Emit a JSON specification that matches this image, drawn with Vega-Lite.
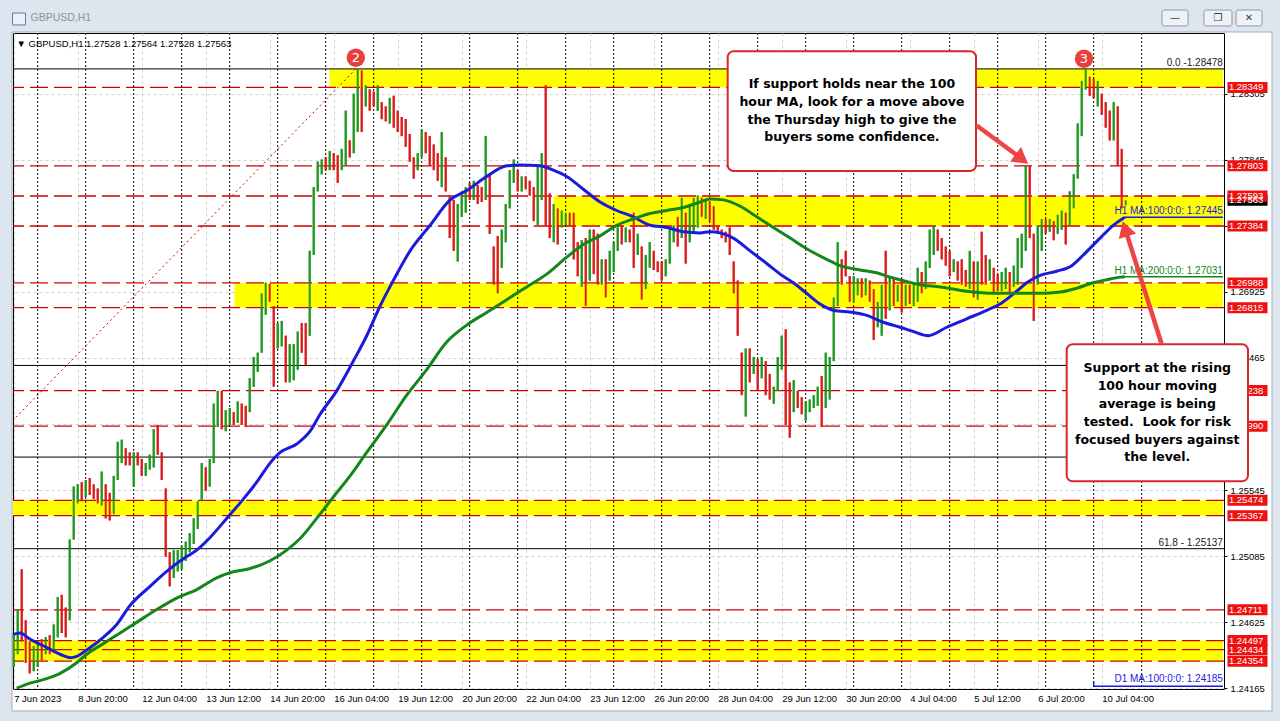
{
"$schema":"https://vega.github.io/schema/vega-lite/v6.json",
"autosize":{"type":"none"},
"padding":{"left":13,"top":33,"right":56,"bottom":32},
"width":1211,"height":656,
"config":{"background":"#ffffff","view":{"stroke":"#000000","strokeWidth":1},
"axis":{"labelFont":"Liberation Sans","labelFontSize":9.5,"labelColor":"#000000","domain":false,"gridColor":"#d2d2d2","gridDash":[3,3],"gridWidth":1},
"text":{"font":"Liberation Sans"}},
"datasets":{
"frame":[{"x1":-10,"x2":650,"p1":1.28735,"p2":1.2900},{"x1":-10,"x2":11.15,"p1":1.2390,"p2":1.2900},{"x1":641.15,"x2":650,"p1":1.2390,"p2":1.2900},{"x1":-10,"x2":650,"p1":1.2390,"p2":1.24007}],
"zones":[{"x1":169.9,"x2":616.6,"p1":1.28478,"p2":1.28349},{"x1":281.9,"x2":616.6,"p1":1.27593,"p2":1.27384},{"x1":122.4,"x2":616.6,"p1":1.26988,"p2":1.26815},{"x1":11.65,"x2":616.6,"p1":1.25474,"p2":1.25367},{"x1":11.65,"x2":616.6,"p1":1.24497,"p2":1.24354}],
"fib":[{"p":1.28478},{"p":1.26413},{"p":1.25775},{"p":1.25137}],
"levels":[{"p":1.28349},{"p":1.27803},{"p":1.27593},{"p":1.27384},{"p":1.26988},{"p":1.26815},{"p":1.26238},{"p":1.2599},{"p":1.25474},{"p":1.25367},{"p":1.24711},{"p":1.24497},{"p":1.24434},{"p":1.24354}],
"days":[{"i":24},{"i":48},{"i":72},{"i":96},{"i":120},{"i":144},{"i":168},{"i":192},{"i":216},{"i":240},{"i":264},{"i":288},{"i":312},{"i":336},{"i":360},{"i":384},{"i":408},{"i":432},{"i":456},{"i":480},{"i":504},{"i":528},{"i":552},{"i":576}],
"bars":[
{"i":12,"h":1.2455,"l":1.24314,"s":"u"},{"i":14,"h":1.24713,"l":1.24402,"s":"u"},{"i":16,"h":1.24994,"l":1.24491,"s":"d"},{"i":18,"h":1.24638,"l":1.24343,"s":"d"},{"i":20,"h":1.24491,"l":1.24269,"s":"d"},{"i":22,"h":1.24461,"l":1.24284,"s":"u"},{"i":24,"h":1.24491,"l":1.24314,"s":"u"},{"i":26,"h":1.24506,"l":1.24358,"s":"d"},{"i":28,"h":1.2452,"l":1.24402,"s":"u"},{"i":30,"h":1.24535,"l":1.24402,"s":"d"},
{"i":32,"h":1.24609,"l":1.24432,"s":"u"},{"i":34,"h":1.24801,"l":1.2452,"s":"u"},{"i":36,"h":1.24816,"l":1.2455,"s":"d"},{"i":38,"h":1.24727,"l":1.2452,"s":"d"},{"i":40,"h":1.25201,"l":1.24638,"s":"u"},{"i":42,"h":1.2557,"l":1.25201,"s":"u"},{"i":44,"h":1.25585,"l":1.25452,"s":"u"},{"i":46,"h":1.256,"l":1.25467,"s":"d"},{"i":48,"h":1.25615,"l":1.25497,"s":"u"},{"i":50,"h":1.25629,"l":1.25511,"s":"d"},
{"i":52,"h":1.25585,"l":1.25482,"s":"d"},{"i":54,"h":1.25556,"l":1.25452,"s":"d"},{"i":56,"h":1.25674,"l":1.25437,"s":"u"},{"i":58,"h":1.25585,"l":1.25348,"s":"d"},{"i":60,"h":1.25526,"l":1.25334,"s":"d"},{"i":62,"h":1.25644,"l":1.25378,"s":"u"},{"i":64,"h":1.25881,"l":1.25615,"s":"u"},{"i":66,"h":1.25896,"l":1.25733,"s":"u"},{"i":68,"h":1.25836,"l":1.25718,"s":"d"},{"i":70,"h":1.25807,"l":1.25718,"s":"d"},
{"i":72,"h":1.25807,"l":1.2557,"s":"u"},{"i":74,"h":1.25807,"l":1.25718,"s":"d"},{"i":76,"h":1.25762,"l":1.25644,"s":"d"},{"i":78,"h":1.25733,"l":1.25644,"s":"u"},{"i":80,"h":1.25792,"l":1.25688,"s":"u"},{"i":82,"h":1.25969,"l":1.25703,"s":"u"},{"i":84,"h":1.25999,"l":1.25792,"s":"d"},{"i":86,"h":1.25807,"l":1.25615,"s":"d"},{"i":88,"h":1.25556,"l":1.25082,"s":"d"},{"i":90,"h":1.25112,"l":1.24875,"s":"d"},
{"i":92,"h":1.25127,"l":1.24934,"s":"u"},{"i":94,"h":1.25127,"l":1.24979,"s":"u"},{"i":96,"h":1.25156,"l":1.24994,"s":"u"},{"i":98,"h":1.25186,"l":1.25053,"s":"u"},{"i":100,"h":1.25245,"l":1.25112,"s":"u"},{"i":102,"h":1.25348,"l":1.25171,"s":"u"},{"i":104,"h":1.25467,"l":1.25274,"s":"u"},{"i":106,"h":1.25733,"l":1.25467,"s":"u"},{"i":108,"h":1.25703,"l":1.25541,"s":"d"},{"i":110,"h":1.25762,"l":1.2557,"s":"u"},
{"i":112,"h":1.26147,"l":1.25733,"s":"u"},{"i":114,"h":1.26236,"l":1.25984,"s":"u"},{"i":116,"h":1.26236,"l":1.25969,"s":"d"},{"i":118,"h":1.26102,"l":1.25955,"s":"u"},{"i":120,"h":1.26117,"l":1.25999,"s":"u"},{"i":122,"h":1.26088,"l":1.25999,"s":"d"},{"i":124,"h":1.26162,"l":1.26014,"s":"u"},{"i":126,"h":1.26147,"l":1.25999,"s":"d"},{"i":128,"h":1.26132,"l":1.25984,"s":"d"},{"i":130,"h":1.26324,"l":1.26088,"s":"u"},
{"i":132,"h":1.26472,"l":1.26265,"s":"u"},{"i":134,"h":1.26502,"l":1.26369,"s":"u"},{"i":136,"h":1.26915,"l":1.26502,"s":"u"},{"i":138,"h":1.26989,"l":1.26767,"s":"u"},{"i":140,"h":1.26981,"l":1.26856,"s":"d"},{"i":142,"h":1.26827,"l":1.26265,"s":"d"},{"i":144,"h":1.26708,"l":1.26531,"s":"u"},{"i":146,"h":1.26723,"l":1.26546,"s":"u"},{"i":148,"h":1.2662,"l":1.26295,"s":"d"},{"i":150,"h":1.26561,"l":1.26295,"s":"u"},
{"i":152,"h":1.26561,"l":1.2631,"s":"u"},{"i":154,"h":1.26649,"l":1.26384,"s":"u"},{"i":156,"h":1.26708,"l":1.26502,"s":"d"},{"i":158,"h":1.26708,"l":1.26413,"s":"d"},{"i":160,"h":1.27211,"l":1.2662,"s":"u"},{"i":162,"h":1.27655,"l":1.27182,"s":"u"},{"i":164,"h":1.27832,"l":1.27625,"s":"u"},{"i":166,"h":1.27847,"l":1.27744,"s":"u"},{"i":168,"h":1.27862,"l":1.27773,"s":"d"},{"i":170,"h":1.27906,"l":1.27773,"s":"u"},
{"i":172,"h":1.27891,"l":1.27773,"s":"d"},{"i":174,"h":1.27877,"l":1.27684,"s":"d"},{"i":176,"h":1.27921,"l":1.27773,"s":"u"},{"i":178,"h":1.28187,"l":1.27803,"s":"u"},{"i":180,"h":1.2798,"l":1.27862,"s":"d"},{"i":182,"h":1.28305,"l":1.27891,"s":"u"},{"i":184,"h":1.28477,"l":1.28039,"s":"u"},{"i":186,"h":1.28468,"l":1.28039,"s":"d"},{"i":188,"h":1.28365,"l":1.28217,"s":"u"},{"i":190,"h":1.28335,"l":1.28187,"s":"d"},
{"i":192,"h":1.2832,"l":1.28217,"s":"d"},{"i":194,"h":1.28365,"l":1.28187,"s":"u"},{"i":196,"h":1.28246,"l":1.28128,"s":"d"},{"i":198,"h":1.28217,"l":1.28113,"s":"d"},{"i":200,"h":1.28276,"l":1.28098,"s":"u"},{"i":202,"h":1.28291,"l":1.28069,"s":"d"},{"i":204,"h":1.28187,"l":1.28039,"s":"d"},{"i":206,"h":1.28143,"l":1.2801,"s":"d"},{"i":208,"h":1.28128,"l":1.27936,"s":"d"},{"i":210,"h":1.28025,"l":1.27832,"s":"d"},
{"i":212,"h":1.27862,"l":1.27714,"s":"d"},{"i":214,"h":1.27891,"l":1.27773,"s":"u"},{"i":216,"h":1.28054,"l":1.27862,"s":"u"},{"i":218,"h":1.28039,"l":1.27891,"s":"d"},{"i":220,"h":1.2801,"l":1.27803,"s":"d"},{"i":222,"h":1.27951,"l":1.27773,"s":"d"},{"i":224,"h":1.27891,"l":1.27699,"s":"d"},{"i":226,"h":1.28039,"l":1.27655,"s":"u"},{"i":228,"h":1.27862,"l":1.27625,"s":"d"},{"i":230,"h":1.27596,"l":1.273,"s":"d"},
{"i":232,"h":1.27566,"l":1.27211,"s":"d"},{"i":234,"h":1.27537,"l":1.27137,"s":"u"},{"i":236,"h":1.27625,"l":1.27448,"s":"u"},{"i":238,"h":1.27655,"l":1.27477,"s":"u"},{"i":240,"h":1.27684,"l":1.27566,"s":"d"},{"i":242,"h":1.27699,"l":1.27566,"s":"u"},{"i":244,"h":1.2767,"l":1.27537,"s":"d"},{"i":246,"h":1.27655,"l":1.27551,"s":"d"},{"i":248,"h":1.2801,"l":1.27566,"s":"u"},{"i":250,"h":1.27744,"l":1.2733,"s":"d"},
{"i":252,"h":1.27241,"l":1.26975,"s":"d"},{"i":254,"h":1.27315,"l":1.26915,"s":"d"},{"i":256,"h":1.27359,"l":1.27093,"s":"u"},{"i":258,"h":1.27537,"l":1.27271,"s":"u"},{"i":260,"h":1.27773,"l":1.27507,"s":"u"},{"i":262,"h":1.27847,"l":1.27684,"s":"u"},{"i":264,"h":1.27773,"l":1.27625,"s":"d"},{"i":266,"h":1.27729,"l":1.27625,"s":"u"},{"i":268,"h":1.27729,"l":1.2764,"s":"d"},{"i":270,"h":1.27699,"l":1.27596,"s":"d"},
{"i":272,"h":1.27655,"l":1.27418,"s":"d"},{"i":274,"h":1.27803,"l":1.27389,"s":"u"},{"i":276,"h":1.27891,"l":1.27566,"s":"u"},{"i":278,"h":1.28365,"l":1.27389,"s":"d"},{"i":280,"h":1.27611,"l":1.273,"s":"d"},{"i":282,"h":1.27537,"l":1.27271,"s":"u"},{"i":284,"h":1.27507,"l":1.27256,"s":"d"},{"i":286,"h":1.27492,"l":1.27374,"s":"u"},{"i":288,"h":1.27477,"l":1.27389,"s":"u"},{"i":290,"h":1.27477,"l":1.27389,"s":"d"},
{"i":292,"h":1.27477,"l":1.27152,"s":"d"},{"i":294,"h":1.27271,"l":1.27034,"s":"d"},{"i":296,"h":1.27285,"l":1.2696,"s":"u"},{"i":298,"h":1.273,"l":1.26827,"s":"d"},{"i":300,"h":1.27359,"l":1.27004,"s":"u"},{"i":302,"h":1.27359,"l":1.27049,"s":"d"},{"i":304,"h":1.2733,"l":1.26975,"s":"d"},{"i":306,"h":1.27152,"l":1.26975,"s":"u"},{"i":308,"h":1.27152,"l":1.26886,"s":"d"},{"i":310,"h":1.27211,"l":1.27004,"s":"u"},
{"i":312,"h":1.27271,"l":1.27063,"s":"u"},{"i":314,"h":1.27374,"l":1.27211,"s":"u"},{"i":316,"h":1.27389,"l":1.27256,"s":"d"},{"i":318,"h":1.27374,"l":1.27271,"s":"u"},{"i":320,"h":1.27359,"l":1.27271,"s":"d"},{"i":322,"h":1.27477,"l":1.27093,"s":"d"},{"i":324,"h":1.2733,"l":1.27182,"s":"u"},{"i":326,"h":1.27241,"l":1.26871,"s":"d"},{"i":328,"h":1.27182,"l":1.26945,"s":"u"},{"i":330,"h":1.27271,"l":1.27093,"s":"u"},
{"i":332,"h":1.27211,"l":1.27078,"s":"d"},{"i":334,"h":1.27137,"l":1.27063,"s":"d"},{"i":336,"h":1.27137,"l":1.27004,"s":"d"},{"i":338,"h":1.27152,"l":1.27034,"s":"u"},{"i":340,"h":1.27359,"l":1.27123,"s":"u"},{"i":342,"h":1.27389,"l":1.27271,"s":"u"},{"i":344,"h":1.27448,"l":1.27241,"s":"d"},{"i":346,"h":1.27581,"l":1.273,"s":"u"},{"i":348,"h":1.27477,"l":1.27123,"s":"d"},{"i":350,"h":1.27537,"l":1.27271,"s":"u"},
{"i":352,"h":1.27581,"l":1.27344,"s":"u"},{"i":354,"h":1.27596,"l":1.27374,"s":"u"},{"i":356,"h":1.27581,"l":1.27448,"s":"d"},{"i":358,"h":1.27566,"l":1.27433,"s":"u"},{"i":360,"h":1.27551,"l":1.27418,"s":"d"},{"i":362,"h":1.27522,"l":1.27359,"s":"d"},{"i":364,"h":1.27389,"l":1.2733,"s":"d"},{"i":366,"h":1.27359,"l":1.273,"s":"d"},{"i":368,"h":1.27344,"l":1.27271,"s":"d"},{"i":370,"h":1.27374,"l":1.27182,"s":"d"},
{"i":372,"h":1.27137,"l":1.26915,"s":"d"},{"i":374,"h":1.27004,"l":1.2662,"s":"d"},{"i":376,"h":1.26502,"l":1.26206,"s":"d"},{"i":378,"h":1.26531,"l":1.26058,"s":"u"},{"i":380,"h":1.26531,"l":1.26295,"s":"d"},{"i":382,"h":1.26472,"l":1.26354,"s":"u"},{"i":384,"h":1.26457,"l":1.26236,"s":"d"},{"i":386,"h":1.26472,"l":1.26324,"s":"u"},{"i":388,"h":1.26443,"l":1.26206,"s":"d"},{"i":390,"h":1.26354,"l":1.26176,"s":"d"},
{"i":392,"h":1.26265,"l":1.26147,"s":"u"},{"i":394,"h":1.26472,"l":1.26236,"s":"u"},{"i":396,"h":1.2662,"l":1.26384,"s":"u"},{"i":398,"h":1.26664,"l":1.25999,"s":"d"},{"i":400,"h":1.26295,"l":1.2591,"s":"d"},{"i":402,"h":1.2631,"l":1.26088,"s":"u"},{"i":404,"h":1.26236,"l":1.26117,"s":"d"},{"i":406,"h":1.26191,"l":1.26073,"s":"d"},{"i":408,"h":1.26162,"l":1.26029,"s":"u"},{"i":410,"h":1.26176,"l":1.26088,"s":"u"},
{"i":412,"h":1.26206,"l":1.26117,"s":"u"},{"i":414,"h":1.26265,"l":1.26132,"s":"u"},{"i":416,"h":1.26339,"l":1.25984,"s":"d"},{"i":418,"h":1.26502,"l":1.26117,"s":"u"},{"i":420,"h":1.26472,"l":1.26176,"s":"u"},{"i":422,"h":1.26886,"l":1.26443,"s":"u"},{"i":424,"h":1.27271,"l":1.26827,"s":"u"},{"i":426,"h":1.27152,"l":1.26975,"s":"d"},{"i":428,"h":1.27211,"l":1.27034,"s":"d"},{"i":430,"h":1.27034,"l":1.26856,"s":"d"},
{"i":432,"h":1.27034,"l":1.26856,"s":"u"},{"i":434,"h":1.27019,"l":1.26901,"s":"u"},{"i":436,"h":1.27019,"l":1.26886,"s":"d"},{"i":438,"h":1.27019,"l":1.26901,"s":"u"},{"i":440,"h":1.27004,"l":1.26856,"s":"d"},{"i":442,"h":1.26945,"l":1.2659,"s":"d"},{"i":444,"h":1.26856,"l":1.26679,"s":"u"},{"i":446,"h":1.26975,"l":1.2662,"s":"u"},{"i":448,"h":1.27211,"l":1.26738,"s":"d"},{"i":450,"h":1.27034,"l":1.26797,"s":"u"},
{"i":452,"h":1.27019,"l":1.26827,"s":"d"},{"i":454,"h":1.26975,"l":1.26856,"s":"u"},{"i":456,"h":1.27004,"l":1.26782,"s":"d"},{"i":458,"h":1.26975,"l":1.26827,"s":"u"},{"i":460,"h":1.26975,"l":1.26841,"s":"d"},{"i":462,"h":1.26989,"l":1.26827,"s":"u"},{"i":464,"h":1.27093,"l":1.26856,"s":"u"},{"i":466,"h":1.27063,"l":1.26915,"s":"d"},{"i":468,"h":1.27137,"l":1.26945,"s":"u"},{"i":470,"h":1.27359,"l":1.27093,"s":"u"},
{"i":472,"h":1.27389,"l":1.27182,"s":"u"},{"i":474,"h":1.27359,"l":1.27211,"s":"d"},{"i":476,"h":1.273,"l":1.27152,"s":"d"},{"i":478,"h":1.27241,"l":1.27108,"s":"d"},{"i":480,"h":1.27211,"l":1.27034,"s":"d"},{"i":482,"h":1.27152,"l":1.27063,"s":"u"},{"i":484,"h":1.27137,"l":1.27004,"s":"d"},{"i":486,"h":1.27152,"l":1.26975,"s":"d"},{"i":488,"h":1.27078,"l":1.2696,"s":"d"},{"i":490,"h":1.27211,"l":1.26945,"s":"u"},
{"i":492,"h":1.27137,"l":1.26886,"s":"d"},{"i":494,"h":1.27137,"l":1.26871,"s":"u"},{"i":496,"h":1.27344,"l":1.26975,"s":"d"},{"i":498,"h":1.27182,"l":1.26975,"s":"d"},{"i":500,"h":1.27152,"l":1.27004,"s":"u"},{"i":502,"h":1.27093,"l":1.26915,"s":"d"},{"i":504,"h":1.27049,"l":1.2693,"s":"d"},{"i":506,"h":1.27063,"l":1.2693,"s":"u"},{"i":508,"h":1.27093,"l":1.26945,"s":"u"},{"i":510,"h":1.27063,"l":1.26915,"s":"d"},
{"i":512,"h":1.27108,"l":1.2696,"s":"u"},{"i":514,"h":1.273,"l":1.26975,"s":"u"},{"i":516,"h":1.2733,"l":1.27093,"s":"u"},{"i":518,"h":1.27803,"l":1.27211,"s":"u"},{"i":520,"h":1.27803,"l":1.273,"s":"d"},{"i":522,"h":1.2733,"l":1.26723,"s":"d"},{"i":524,"h":1.27389,"l":1.26975,"s":"u"},{"i":526,"h":1.27433,"l":1.27211,"s":"u"},{"i":528,"h":1.27433,"l":1.2733,"s":"d"},{"i":530,"h":1.27433,"l":1.27344,"s":"u"},
{"i":532,"h":1.27418,"l":1.27285,"s":"d"},{"i":534,"h":1.27463,"l":1.2733,"s":"u"},{"i":536,"h":1.27492,"l":1.27359,"s":"u"},{"i":538,"h":1.27477,"l":1.27256,"s":"d"},{"i":540,"h":1.27625,"l":1.27389,"s":"u"},{"i":542,"h":1.27744,"l":1.27507,"s":"u"},{"i":544,"h":1.28098,"l":1.27714,"s":"u"},{"i":546,"h":1.28394,"l":1.2801,"s":"u"},{"i":548,"h":1.28478,"l":1.28335,"s":"u"},{"i":550,"h":1.28424,"l":1.28291,"s":"d"},
{"i":552,"h":1.28409,"l":1.28276,"s":"d"},{"i":554,"h":1.28394,"l":1.28217,"s":"u"},{"i":556,"h":1.28305,"l":1.28158,"s":"d"},{"i":558,"h":1.28246,"l":1.28069,"s":"d"},{"i":560,"h":1.28187,"l":1.2798,"s":"d"},{"i":562,"h":1.28246,"l":1.2798,"s":"u"},{"i":564,"h":1.28217,"l":1.27803,"s":"d"},{"i":566,"h":1.27921,"l":1.27507,"s":"d"},{"i":568,"h":1.27564,"l":1.27528,"s":"u"}],
"ma":[
{"i":11.7,"p":1.2454,"k":"100"},{"i":15.2,"p":1.2455,"k":"100"},{"i":20.2,"p":1.24506,"k":"100"},{"i":26.8,"p":1.24461,"k":"100"},{"i":35.2,"p":1.24402,"k":"100"},{"i":40.2,"p":1.24378,"k":"100"},{"i":43.5,"p":1.24387,"k":"100"},{"i":48.5,"p":1.24432,"k":"100"},{"i":56.8,"p":1.2452,"k":"100"},{"i":63.5,"p":1.24609,"k":"100"},{"i":70.2,"p":1.24742,"k":"100"},{"i":80.2,"p":1.24875,"k":"100"},{"i":88.5,"p":1.24979,"k":"100"},{"i":96.8,"p":1.25067,"k":"100"},{"i":103.5,"p":1.25127,"k":"100"},{"i":110.2,"p":1.25215,"k":"100"},{"i":118.5,"p":1.25348,"k":"100"},{"i":126.8,"p":1.25482,"k":"100"},{"i":133.5,"p":1.256,"k":"100"},{"i":140.2,"p":1.25733,"k":"100"},{"i":145.2,"p":1.25807,"k":"100"},{"i":153.5,"p":1.25866,"k":"100"},{"i":160.2,"p":1.25955,"k":"100"},{"i":165.2,"p":1.26073,"k":"100"},{"i":173.5,"p":1.26236,"k":"100"},{"i":181.8,"p":1.26443,"k":"100"},{"i":188.5,"p":1.2662,"k":"100"},{"i":195.2,"p":1.26827,"k":"100"},{"i":201.8,"p":1.27004,"k":"100"},{"i":210.2,"p":1.27211,"k":"100"},{"i":220.2,"p":1.27389,"k":"100"},{"i":230.2,"p":1.27566,"k":"100"},{"i":238.5,"p":1.27631,"k":"100"},{"i":248.5,"p":1.27729,"k":"100"},{"i":258.5,"p":1.27803,"k":"100"},{"i":265.2,"p":1.27809,"k":"100"},{"i":275.2,"p":1.27803,"k":"100"},{"i":281.8,"p":1.27773,"k":"100"},{"i":288.5,"p":1.27729,"k":"100"},{"i":296.8,"p":1.2764,"k":"100"},{"i":305.2,"p":1.27551,"k":"100"},{"i":313.5,"p":1.27492,"k":"100"},{"i":321.8,"p":1.27448,"k":"100"},{"i":330.2,"p":1.27389,"k":"100"},{"i":338.5,"p":1.27374,"k":"100"},{"i":346.8,"p":1.27344,"k":"100"},{"i":355.2,"p":1.27336,"k":"100"},{"i":360.2,"p":1.27344,"k":"100"},{"i":365.2,"p":1.27336,"k":"100"},{"i":371.8,"p":1.273,"k":"100"},{"i":380.2,"p":1.27211,"k":"100"},{"i":388.5,"p":1.27123,"k":"100"},{"i":395.2,"p":1.27049,"k":"100"},{"i":401.8,"p":1.26989,"k":"100"},{"i":408.5,"p":1.26915,"k":"100"},{"i":415.2,"p":1.26841,"k":"100"},{"i":421.8,"p":1.26797,"k":"100"},{"i":431.8,"p":1.26782,"k":"100"},{"i":438.5,"p":1.26762,"k":"100"},{"i":446.8,"p":1.26714,"k":"100"},{"i":455.2,"p":1.26679,"k":"100"},{"i":461.8,"p":1.26649,"k":"100"},{"i":469.3,"p":1.2662,"k":"100"},{"i":478.5,"p":1.26679,"k":"100"},{"i":488.5,"p":1.26738,"k":"100"},{"i":498.5,"p":1.26797,"k":"100"},{"i":505.2,"p":1.26841,"k":"100"},{"i":513.5,"p":1.2693,"k":"100"},{"i":518.5,"p":1.26989,"k":"100"},{"i":525.2,"p":1.2704,"k":"100"},{"i":533.5,"p":1.27069,"k":"100"},{"i":541,"p":1.27108,"k":"100"},{"i":546.8,"p":1.27182,"k":"100"},{"i":555.2,"p":1.273,"k":"100"},{"i":561.8,"p":1.27389,"k":"100"},{"i":567.6,"p":1.27445,"k":"100"},
{"i":13.5,"p":1.24166,"k":"200"},{"i":20.2,"p":1.24201,"k":"200"},{"i":26.8,"p":1.24225,"k":"200"},{"i":35.2,"p":1.24269,"k":"200"},{"i":43.5,"p":1.24343,"k":"200"},{"i":48.5,"p":1.24402,"k":"200"},{"i":56.8,"p":1.24476,"k":"200"},{"i":65.2,"p":1.2455,"k":"200"},{"i":73.5,"p":1.24624,"k":"200"},{"i":83.5,"p":1.24713,"k":"200"},{"i":93.5,"p":1.24793,"k":"200"},{"i":103.5,"p":1.24852,"k":"200"},{"i":113.5,"p":1.24934,"k":"200"},{"i":120.2,"p":1.2497,"k":"200"},{"i":130.2,"p":1.24999,"k":"200"},{"i":140.2,"p":1.25053,"k":"200"},{"i":148.5,"p":1.25127,"k":"200"},{"i":155.2,"p":1.25208,"k":"200"},{"i":163.5,"p":1.25348,"k":"200"},{"i":171.8,"p":1.25497,"k":"200"},{"i":180.2,"p":1.25644,"k":"200"},{"i":188.5,"p":1.25807,"k":"200"},{"i":198.5,"p":1.25999,"k":"200"},{"i":208.5,"p":1.26206,"k":"200"},{"i":218.5,"p":1.26384,"k":"200"},{"i":228.5,"p":1.26576,"k":"200"},{"i":238.5,"p":1.26694,"k":"200"},{"i":248.5,"p":1.26782,"k":"200"},{"i":258.5,"p":1.26871,"k":"200"},{"i":268.5,"p":1.2696,"k":"200"},{"i":278.5,"p":1.27049,"k":"200"},{"i":288.5,"p":1.27167,"k":"200"},{"i":296.8,"p":1.27256,"k":"200"},{"i":305.2,"p":1.27315,"k":"200"},{"i":313.5,"p":1.27389,"k":"200"},{"i":321.8,"p":1.27433,"k":"200"},{"i":330.2,"p":1.27471,"k":"200"},{"i":338.5,"p":1.27492,"k":"200"},{"i":346.8,"p":1.27513,"k":"200"},{"i":355.2,"p":1.27551,"k":"200"},{"i":360.2,"p":1.27572,"k":"200"},{"i":366.8,"p":1.27566,"k":"200"},{"i":375.2,"p":1.27522,"k":"200"},{"i":383.5,"p":1.27448,"k":"200"},{"i":391.8,"p":1.27374,"k":"200"},{"i":400.2,"p":1.273,"k":"200"},{"i":408.5,"p":1.27226,"k":"200"},{"i":418.5,"p":1.27152,"k":"200"},{"i":425.2,"p":1.27108,"k":"200"},{"i":435.2,"p":1.27078,"k":"200"},{"i":443.5,"p":1.27058,"k":"200"},{"i":450.2,"p":1.27028,"k":"200"},{"i":455.2,"p":1.2701,"k":"200"},{"i":465.2,"p":1.26975,"k":"200"},{"i":475.2,"p":1.2696,"k":"200"},{"i":488.5,"p":1.2693,"k":"200"},{"i":501.8,"p":1.26915,"k":"200"},{"i":513.5,"p":1.26915,"k":"200"},{"i":525.2,"p":1.26915,"k":"200"},{"i":535.2,"p":1.26924,"k":"200"},{"i":543.5,"p":1.26951,"k":"200"},{"i":551.8,"p":1.26989,"k":"200"},{"i":558.5,"p":1.2701,"k":"200"},{"i":565.2,"p":1.27028,"k":"200"},{"i":567.6,"p":1.27031,"k":"200"}],
"malines":[{"x1":567.6,"x2":616.6,"p1":1.27445,"p2":1.27445,"k":"100"},{"x1":567.6,"x2":616.6,"p1":1.27031,"p2":1.27031,"k":"200"},{"x1":552,"x2":616.6,"p1":1.2418,"p2":1.2418,"k":"D1"},{"x1":552,"x2":552,"p1":1.2418,"p2":1.2421,"k":"D1"}],
"rtexts":[{"p":1.27445,"t":"H1 MA:100:0:0: 1.27445","k":"100"},{"p":1.27031,"t":"H1 MA:200:0:0: 1.27031","k":"200"},{"p":1.24185,"t":"D1 MA:100:0:0: 1.24185","k":"D1"},{"p":1.28478,"t":"0.0 -1.28478","k":"fib"},{"p":1.26413,"t":"38.2 - 1.26413","k":"fib"},{"p":1.25775,"t":"50.0 - 1.25775","k":"fib"},{"p":1.25137,"t":"61.8 - 1.25137","k":"fib"}],
"plabels":[{"p":1.27563,"t":"1.27563","c":"k"},{"p":1.24434,"t":"1.24434","c":"r"},{"p":1.28349,"t":"1.28349","c":"r"},{"p":1.27803,"t":"1.27803","c":"r"},{"p":1.27593,"t":"1.27593","c":"r"},{"p":1.27384,"t":"1.27384","c":"r"},{"p":1.26988,"t":"1.26988","c":"r"},{"p":1.26815,"t":"1.26815","c":"r"},{"p":1.26238,"t":"1.26238","c":"r"},{"p":1.2599,"t":"1.25990","c":"r"},{"p":1.25474,"t":"1.25474","c":"r"},{"p":1.25367,"t":"1.25367","c":"r"},{"p":1.24711,"t":"1.24711","c":"r"},{"p":1.24497,"t":"1.24497","c":"r"},{"p":1.24354,"t":"1.24354","c":"r"}],
"boxes":[{"x1":369.0,"x2":493.15,"p1":1.28601,"p2":1.27767},{"x1":538.5,"x2":629.15,"p1":1.26561,"p2":1.25606}],
"notes":[{"i":431.1,"p":1.28373,"t":"If support holds near the 100\nhour MA, look for a move above\nthe Thursday high to give the\nbuyers some confidence."},{"i":583.8,"p":1.26392,"t":"Support at the rising\n100 hour moving\naverage is being\ntested.\u00a0 Look for risk\nfocused buyers against\nthe level."}],
"arrows":[{"x1":493.5,"p1":1.28084,"x2":516.1,"p2":1.27851},{"x1":586.0,"p1":1.26561,"x2":567.7,"p2":1.27365}],
"marks":[{"i":183.05,"p":1.28556,"t":"2"},{"i":547.15,"p":1.28549,"t":"3"}],
"buttons":[{"x1":586.15,"x2":599.15,"xc":592.65,"p1":1.28888,"p2":1.28777,"pc":1.28832,"t":"—"},{"x1":607.15,"x2":621.15,"xc":614.15,"p1":1.28888,"p2":1.28777,"pc":1.28832,"t":"❐"},{"x1":623.15,"x2":636.15,"xc":629.65,"p1":1.28888,"p2":1.28777,"pc":1.28832,"t":"✕"}]
},
"layer":[
{"data":{"name":"bars"},"mark":{"type":"rule","strokeWidth":2,"strokeCap":"butt"},
"encoding":{"x":{"field":"i","type":"quantitative","scale":{"domain":[11.65,617.15],"nice":false,"zero":false},
"axis":{"title":null,"values":[12,44,76,108,140,172,204,236,268,300,332,364,396,428,460,492,524,556],"labelExpr":"['7 Jun 2023','8 Jun 20:00','12 Jun 04:00','13 Jun 12:00','14 Jun 20:00','16 Jun 04:00','19 Jun 12:00','20 Jun 20:00','22 Jun 04:00','23 Jun 12:00','26 Jun 20:00','28 Jun 04:00','29 Jun 12:00','30 Jun 20:00','4 Jul 04:00','5 Jul 12:00','6 Jul 20:00','10 Jul 04:00'][round((datum.value-12)/32)]","labelAlign":"left","labelFlush":false,"labelOverlap":false,"ticks":false,"labelPadding":4,"grid":true,"zindex":0}},
"y":{"field":"l","type":"quantitative","scale":{"domain":[1.2416,1.28728],"nice":false,"zero":false},
"axis":{"title":null,"orient":"right","values":[1.24165,1.24395,1.24625,1.24855,1.25085,1.25315,1.25545,1.25775,1.26005,1.26235,1.26465,1.26695,1.26925,1.27155,1.27385,1.27615,1.27845,1.28075,1.28305,1.28535],"format":".5f","tickSize":3,"tickColor":"#000000","labelPadding":3,"grid":true,"labelOverlap":false,"labelFlush":false,"zindex":0}},
"y2":{"field":"h"},
"color":{"condition":{"test":"datum.s=='u'","value":"#1f9a1f"},"value":"#dd1c1c"}}},
{"data":{"name":"frame"},"mark":{"type":"rect","fill":"#dde5ee"},"encoding":{"x":{"field":"x1","type":"quantitative"},"x2":{"field":"x2"},"y":{"field":"p1","type":"quantitative"},"y2":{"field":"p2"}}},
{"data":{"values":[{"x1":11.15,"x2":641.15,"p1":1.28735,"p2":1.24007}]},"mark":{"type":"rect","fill":null,"stroke":"#a4aeb9","strokeWidth":1},"encoding":{"x":{"field":"x1","type":"quantitative"},"x2":{"field":"x2"},"y":{"field":"p1","type":"quantitative"},"y2":{"field":"p2"}}},
{"data":{"name":"zones"},"mark":{"type":"rect","fill":"#ffff00"},"encoding":{"x":{"field":"x1","type":"quantitative"},"x2":{"field":"x2"},"y":{"field":"p1","type":"quantitative"},"y2":{"field":"p2"}}},
{"data":{"name":"fib"},"mark":{"type":"rule","stroke":"#000000","strokeWidth":1},"encoding":{"y":{"field":"p","type":"quantitative"}}},
{"data":{"name":"levels"},"mark":{"type":"rule","stroke":"#d40000","strokeWidth":1.3,"strokeDash":[18,6]},"encoding":{"y":{"field":"p","type":"quantitative"}}},
{"data":{"name":"days"},"mark":{"type":"rule","stroke":"#000000","strokeWidth":1,"strokeDash":[2,2]},"encoding":{"x":{"field":"i","type":"quantitative"}}},
{"data":{"values":[{"x1":183.15,"p1":1.28478,"x2":11.8,"p2":1.26033}]},"mark":{"type":"rule","stroke":"#d40000","strokeWidth":1,"strokeDash":[2,3]},"encoding":{"x":{"field":"x1","type":"quantitative"},"y":{"field":"p1","type":"quantitative"},"x2":{"field":"x2"},"y2":{"field":"p2"}}},
{"data":{"name":"bars"},"mark":{"type":"rule","strokeWidth":2,"strokeCap":"butt"},"encoding":{"x":{"field":"i","type":"quantitative"},"y":{"field":"l","type":"quantitative"},"y2":{"field":"h"},"color":{"condition":{"test":"datum.s=='u'","value":"#1f9a1f"},"value":"#dd1c1c"}}},
{"data":{"name":"ma"},"mark":{"type":"line","strokeWidth":3,"interpolate":"monotone"},"encoding":{"x":{"field":"i","type":"quantitative"},"y":{"field":"p","type":"quantitative"},"detail":{"field":"k"},"color":{"condition":{"test":"datum.k=='100'","value":"#1b1bdc"},"value":"#14861a"}}},
{"data":{"name":"malines"},"mark":{"type":"rule","strokeWidth":1.5},"encoding":{"x":{"field":"x1","type":"quantitative"},"x2":{"field":"x2"},"y":{"field":"p1","type":"quantitative"},"y2":{"field":"p2"},"color":{"condition":{"test":"datum.k=='200'","value":"#14861a"},"value":"#1b1bdc"}}},
{"data":{"name":"rtexts"},"mark":{"type":"text","align":"right","baseline":"bottom","dy":-1,"fontSize":10,"font":"Liberation Sans"},"encoding":{"x":{"datum":616.6,"type":"quantitative"},"y":{"field":"p","type":"quantitative"},"text":{"field":"t"},"color":{"condition":[{"test":"datum.k=='200'","value":"#14861a"},{"test":"datum.k=='fib'","value":"#222222"}],"value":"#1b1bdc"}}},
{"data":{"name":"plabels"},"mark":{"type":"tick","orient":"horizontal","size":40,"thickness":11,"opacity":1},"encoding":{"x":{"datum":628.9,"type":"quantitative"},"y":{"field":"p","type":"quantitative"},"color":{"condition":{"test":"datum.c=='k'","value":"#000000"},"value":"#ee1111"}}},
{"data":{"name":"plabels"},"mark":{"type":"text","align":"left","baseline":"middle","fontSize":9.5,"color":"#ffffff","font":"Liberation Sans"},"encoding":{"x":{"datum":619.6,"type":"quantitative"},"y":{"field":"p","type":"quantitative"},"text":{"field":"t"}}},
{"data":{"name":"boxes"},"mark":{"type":"rect","fill":"#ffffff","stroke":"#d9262c","strokeWidth":2,"cornerRadius":6},"encoding":{"x":{"field":"x1","type":"quantitative"},"x2":{"field":"x2"},"y":{"field":"p1","type":"quantitative"},"y2":{"field":"p2"}}},
{"data":{"name":"notes"},"mark":{"type":"text","align":"center","baseline":"middle","font":"DejaVu Sans","fontWeight":"bold","fontSize":12.5,"lineHeight":17.8,"lineBreak":"\n","color":"#000000"},"encoding":{"x":{"field":"i","type":"quantitative"},"y":{"field":"p","type":"quantitative"},"text":{"field":"t"}}},
{"data":{"name":"arrows"},"mark":{"type":"rule","stroke":"#ee4444","strokeWidth":4.5},"encoding":{"x":{"field":"x1","type":"quantitative"},"y":{"field":"p1","type":"quantitative"},"x2":{"field":"x2"},"y2":{"field":"p2"}}},
{"data":{"values":[{"i":516.1,"p":1.27851}]},"mark":{"type":"point","shape":"triangle-up","filled":true,"size":330,"angle":126.6,"color":"#ee4444","opacity":1},"encoding":{"x":{"field":"i","type":"quantitative"},"y":{"field":"p","type":"quantitative"}}},
{"data":{"values":[{"i":567.7,"p":1.27365}]},"mark":{"type":"point","shape":"triangle-up","filled":true,"size":330,"angle":342.4,"color":"#ee4444","opacity":1},"encoding":{"x":{"field":"i","type":"quantitative"},"y":{"field":"p","type":"quantitative"}}},
{"data":{"name":"marks"},"mark":{"type":"point","shape":"circle","filled":true,"size":340,"color":"#e8413c","opacity":1},"encoding":{"x":{"field":"i","type":"quantitative"},"y":{"field":"p","type":"quantitative"}}},
{"data":{"name":"marks"},"mark":{"type":"text","align":"center","baseline":"middle","fontSize":13,"font":"DejaVu Sans","color":"#ffffff"},"encoding":{"x":{"field":"i","type":"quantitative"},"y":{"field":"p","type":"quantitative"},"text":{"field":"t"}}},
{"data":{"values":[{"i":13.4,"p":1.28651,"t":"▼ GBPUSD,H1  1.27528 1.27564 1.27528 1.27563"}]},"mark":{"type":"text","align":"left","baseline":"middle","fontSize":9.5,"font":"Liberation Sans","color":"#000000"},"encoding":{"x":{"field":"i","type":"quantitative"},"y":{"field":"p","type":"quantitative"},"text":{"field":"t"}}},
{"data":{"values":[{"i":20.4,"p":1.28832,"t":"GBPUSD,H1"}]},"mark":{"type":"text","align":"left","baseline":"middle","fontSize":10.5,"font":"Liberation Sans","color":"#8c939b"},"encoding":{"x":{"field":"i","type":"quantitative"},"y":{"field":"p","type":"quantitative"},"text":{"field":"t"}}},
{"data":{"values":[{"x1":11.4,"x2":17.9,"p1":1.28867,"p2":1.28784}]},"mark":{"type":"rect","fill":"#e9f0f8","stroke":"#5a7fa9","strokeWidth":1},"encoding":{"x":{"field":"x1","type":"quantitative"},"x2":{"field":"x2"},"y":{"field":"p1","type":"quantitative"},"y2":{"field":"p2"}}},
{"data":{"name":"buttons"},"mark":{"type":"rect","fill":"#eef2f6","stroke":"#8f99a4","strokeWidth":1,"cornerRadius":2},"encoding":{"x":{"field":"x1","type":"quantitative"},"x2":{"field":"x2"},"y":{"field":"p1","type":"quantitative"},"y2":{"field":"p2"}}},
{"data":{"name":"buttons"},"mark":{"type":"text","align":"center","baseline":"middle","fontSize":10,"font":"DejaVu Sans","color":"#3a3f45"},"encoding":{"x":{"field":"xc","type":"quantitative"},"y":{"field":"pc","type":"quantitative"},"text":{"field":"t"}}}
]
}
